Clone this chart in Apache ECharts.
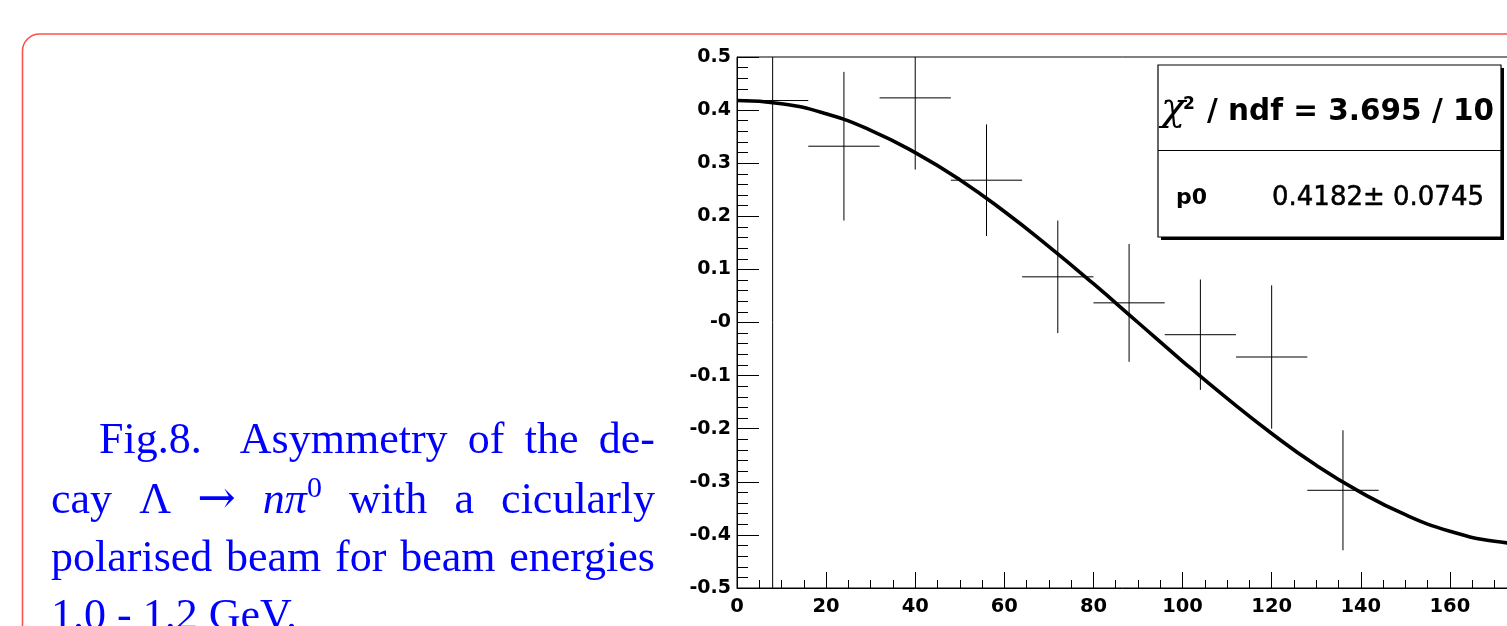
<!DOCTYPE html>
<html>
<head>
<meta charset="utf-8">
<script src="https://cdn.jsdelivr.net/npm/echarts@6/dist/echarts.min.js"></script>
<style>
  html, body { margin: 0; padding: 0; background: #fff; }
  #chart { position: absolute; left: 0; top: 0; width: 1507px; height: 626px; }
  #cap { position: absolute; left: 51px; top: 410px; width: 604px;
         font-family: 'Liberation Serif', 'DejaVu Serif', serif; font-size: 44px;
         line-height: 58px; color: #0000ff; pointer-events: none; }
  #cap .j { text-align: justify; text-align-last: justify; }
  #cap sup { font-size: 30px; vertical-align: baseline; position: relative; top: -0.55em; line-height: 0; }
  #cap i { font-style: italic; }
  #cap .ar { font-family: 'DejaVu Serif', serif; font-size: 46px; }
</style>
</head>
<body>
<div id="chart"></div>
<div id="cap">
  <div class="j" style="text-indent:48px">Fig.8.&nbsp; Asymmetry of the de-</div>
  <div class="j">cay Λ <span class="ar">→</span> <i>nπ</i><sup>0</sup> with a cicularly</div>
  <div class="j">polarised beam for beam energies</div>
  <div>1.0 - 1.2 GeV.</div>
</div>
<script>
// ---- data ----
const binCenters = [8, 24, 40, 56, 72, 88, 104, 120, 136];
const asymmetry  = [0.418, 0.332, 0.423, 0.268, 0.086, 0.037, -0.023, -0.065, -0.316];
const asymErr    = [1.000, 0.140, 0.135, 0.105, 0.106, 0.111, 0.104, 0.135, 0.113];
const binWidth = 16;

// fit curve
const fitX = [0, 10, 20, 30, 40, 50, 60, 70, 80, 90, 100, 110, 120, 130, 140, 150, 160, 170, 180];
const fitY = [0.418, 0.412, 0.393, 0.362, 0.320, 0.269, 0.209, 0.143, 0.073, 0.000,
              -0.073, -0.143, -0.209, -0.269, -0.320, -0.362, -0.393, -0.412, -0.418];

const yTickLabels = ['-0.5', '-0.4', '-0.3', '-0.2', '-0.1', '-0', '0.1', '0.2', '0.3', '0.4', '0.5'];
const xTickLabels = ['0', '20', '40', '60', '80', '100', '120', '140', '160', '180'];

const statChi2 = '/ ndf = 3.695 / 10';
const statParName = 'p0';
const statParValue = '0.4182\u00b1 0.0745';

// ---- chart ----
const chart = echarts.init(document.getElementById('chart'), null, { renderer: 'canvas' });

const points = binCenters.map((x, i) => [x, asymmetry[i], asymErr[i]]);
const fitData = fitX.map((x, i) => [x, fitY[i]]);

const YMIN = -0.5, YMAX = 0.5;
const labelFont = 'DejaVu Sans';

const option = {
  animation: false,
  backgroundColor: '#ffffff',
  grid: {
    left: 737, top: 57, width: 802, height: 531,
    containLabel: false, outerBoundsMode: 'none',
    show: true, borderColor: '#000', borderWidth: 1, backgroundColor: 'transparent'
  },
  xAxis: {
    type: 'value', min: 0, max: 180, interval: 20,
    axisLine: { show: true, onZero: false, lineStyle: { color: '#000', width: 1 } },
    axisTick: { show: true, inside: true, length: 16, lineStyle: { color: '#000', width: 1 } },
    minorTick: { show: true, splitNumber: 4, length: 8, lineStyle: { color: '#000', width: 1 } },
    splitLine: { show: false }, minorSplitLine: { show: false },
    axisLabel: {
      margin: 9, color: '#000', fontFamily: labelFont, fontWeight: 'bold', fontSize: 19.5,
      hideOverlap: false,
      formatter: v => xTickLabels[Math.round(v / 20)] ?? ''
    }
  },
  yAxis: {
    type: 'value', min: YMIN, max: YMAX, interval: 0.1,
    axisLine: { show: true, onZero: false, lineStyle: { color: '#000', width: 1 } },
    axisTick: { show: true, inside: true, length: 22, lineStyle: { color: '#000', width: 1 } },
    minorTick: { show: true, splitNumber: 5, length: 11, lineStyle: { color: '#000', width: 1 } },
    splitLine: { show: false }, minorSplitLine: { show: false },
    axisLabel: {
      margin: 6, color: '#000', fontFamily: labelFont, fontWeight: 'bold', fontSize: 19,
      hideOverlap: false,
      formatter: v => yTickLabels[Math.round((v - YMIN) / 0.1)] ?? ''
    }
  },
  series: [
    {
      type: 'custom',
      data: points,
      clip: true,
      z: 2,
      renderItem: function (params, api) {
        const x = api.value(0), y = api.value(1), e = api.value(2);
        const lo = Math.max(y - e, YMIN), hi = Math.min(y + e, YMAX);
        const a = api.coord([x - binWidth / 2, y]);
        const b = api.coord([x + binWidth / 2, y]);
        const c = api.coord([x, lo]);
        const d = api.coord([x, hi]);
        const st = { stroke: '#000', lineWidth: 1 };
        return {
          type: 'group',
          children: [
            { type: 'line', shape: { x1: a[0], y1: a[1], x2: b[0], y2: b[1] }, style: st },
            { type: 'line', shape: { x1: c[0], y1: c[1], x2: d[0], y2: d[1] }, style: st }
          ]
        };
      }
    },
    {
      type: 'line',
      data: fitData,
      smooth: true,
      showSymbol: false,
      clip: true,
      z: 3,
      lineStyle: { color: '#000', width: 3.6 }
    }
  ],
  graphic: [
    // red rounded frame of the slide
    {
      type: 'rect', z: 0, silent: true,
      shape: { x: 22.5, y: 34, width: 1600, height: 700, r: 17 },
      style: { fill: 'none', stroke: '#ff5050', lineWidth: 1.6 }
    },
    // stat box shadow
    {
      type: 'rect', z: 100, silent: true,
      shape: { x: 1161, y: 68, width: 343, height: 172 },
      style: { fill: '#000' }
    },
    // stat box
    {
      type: 'rect', z: 101, silent: true,
      shape: { x: 1158, y: 65, width: 343, height: 172 },
      style: { fill: '#fff', stroke: '#000', lineWidth: 1.2 }
    },
    {
      type: 'line', z: 102, silent: true,
      shape: { x1: 1158, y1: 150.5, x2: 1501, y2: 150.5 },
      style: { stroke: '#000', lineWidth: 1 }
    },
    {
      type: 'text', z: 103, silent: true,
      style: { x: 1161, y: 110, text: '\u03c7', fontFamily: 'DejaVu Serif', fontStyle: 'italic',
               fontSize: 40, fill: '#000', align: 'left', verticalAlign: 'middle' }
    },
    {
      type: 'text', z: 103, silent: true,
      style: { x: 1183, y: 105, text: '2', fontFamily: labelFont, fontWeight: 'bold',
               fontSize: 17, fill: '#000', align: 'left', verticalAlign: 'middle' }
    },
    {
      type: 'text', z: 103, silent: true,
      style: { x: 1494, y: 112, text: statChi2, fontFamily: labelFont, fontWeight: 'bold',
               fontSize: 29.5, fill: '#000', align: 'right', verticalAlign: 'middle' }
    },
    {
      type: 'text', z: 103, silent: true,
      style: { x: 1176, y: 198, text: statParName, fontFamily: labelFont, fontWeight: 'bold',
               fontSize: 22, fill: '#000', align: 'left', verticalAlign: 'middle' }
    },
    {
      type: 'text', z: 103, silent: true,
      style: { x: 1484, y: 198, text: statParValue, fontFamily: labelFont, fontWeight: 'normal',
               fontSize: 26, fill: '#000', align: 'right', verticalAlign: 'middle',
               stroke: '#000', lineWidth: 0.5 }
    }
  ]
};

chart.setOption(option);
</script>
</body>
</html>
